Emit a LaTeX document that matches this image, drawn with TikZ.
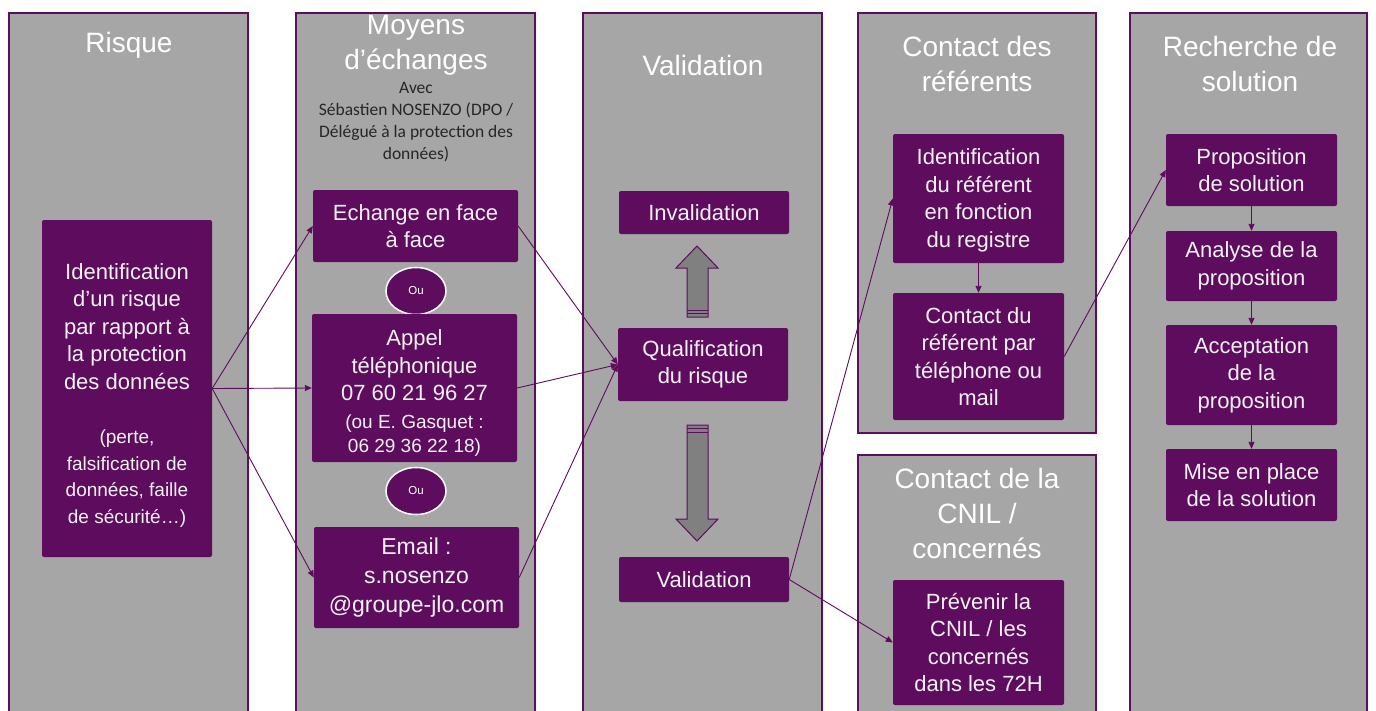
\documentclass[tikz,border=0pt]{standalone}
\usepackage{fontspec}
\setmainfont{Liberation Sans}
\newfontfamily\calib{Carlito}
\usetikzlibrary{arrows.meta,shapes.geometric}
\definecolor{colgray}{RGB}{166,166,166}
\definecolor{plum}{RGB}{94,12,94}
\definecolor{arrgray}{RGB}{128,128,128}
\definecolor{boxtext}{RGB}{242,242,242}
\definecolor{smalltext}{RGB}{38,38,38}
\begin{document}
\begin{tikzpicture}[x=1pt,y=-1pt,
  col/.style={draw=plum,line width=1.2pt,fill=colgray},
  box/.style={fill=plum,rounded corners=2pt,text=boxtext,align=center,inner sep=0pt,font=\fontsize{22}{27.5}\selectfont},
  hdr/.style={text=white,align=center,inner sep=0pt,anchor=north,font=\fontsize{28}{35}\selectfont},
  conn/.style={draw=plum,line width=0.9pt,-{Triangle[length=7pt,width=6pt]}},
  oubox/.style={ellipse,fill=plum,draw=white,line width=1.5pt,minimum width=60pt,minimum height=47pt,inner sep=0pt,text=white,font=\fontsize{11.5}{13}\selectfont},
  blockarr/.style={draw=plum,line width=1pt,fill=arrgray}]
\useasboundingbox (0,0) rectangle (1376,710);
\fill[white] (0,0) rectangle (1376,710);
% columns
\draw[col] (9,13) rectangle (248,714);
\draw[col] (296,13) rectangle (535,714);
\draw[col] (583,13) rectangle (822,714);
\draw[col] (858,13) rectangle (1096,433);
\draw[col] (858,455) rectangle (1096,714);
\draw[col] (1130,13) rectangle (1367,714);
% headers
\node[hdr] (h1) at (129,32) {Risque};
\node[hdr] (h2) at (416,15) {Moyens\\d’échanges};
\node[text=smalltext,align=center,inner sep=0pt,anchor=north,font=\calib\fontsize{17.5}{22}\selectfont] (h2s) at (416,82) {Avec\\Sébastien NOSENZO (DPO /\\Délégué à la protection des\\données)};
\node[hdr] (h3) at (703,55) {Validation};
\node[hdr] (h4) at (977,36) {Contact des\\référents};
\node[hdr] (h5) at (977,468) {Contact de la\\CNIL /\\concernés};
\node[hdr] (h6) at (1250,36) {Recherche de\\solution};
% boxes
\node[box,minimum width=170pt,minimum height=337pt] (risk) at (127,388.5) {\rule{0pt}{29pt}Identification\\d’un risque\\par rapport à\\la protection\\des données\\[27pt]{\fontsize{19}{26}\selectfont (perte,}\\[-1pt]{\fontsize{19}{26}\selectfont falsification de}\\[-1pt]{\fontsize{19}{26}\selectfont données, faille}\\[-1pt]{\fontsize{19}{26}\selectfont de sécurité…)}};
\node[box,minimum width=205pt,minimum height=72pt] (echange) at (415.5,226) {Echange en face\\à face};
\node[oubox] (ou1) at (416,291) {Ou};
\node[box,minimum width=205pt,minimum height=148pt] (appel) at (414.5,388) {\rule{0pt}{26pt}Appel\\téléphonique\\07 60 21 96 27\\{\fontsize{19}{24}\selectfont (ou E. Gasquet :}\\[-3pt]{\fontsize{19}{24}\selectfont 06 29 36 22 18)}};
\node[oubox] (ou2) at (416,491) {Ou};
\node[box,minimum width=205pt,minimum height=101pt,font=\fontsize{23}{29}\selectfont] (email) at (416.5,577.5) {Email :\\s.nosenzo\\@groupe-jlo.com};
\node[box,minimum width=170pt,minimum height=43pt] (invalid) at (704,212.5) {Invalidation};
\node[box,minimum width=170pt,minimum height=73pt] (qualif) at (703,364.5) {Qualification\\du risque};
\node[box,minimum width=170pt,minimum height=45pt] (valid) at (704,579.5) {Validation};
\node[box,minimum width=171pt,minimum height=129pt] (ident) at (978.5,198.5) {\rule{0pt}{20pt}Identification\\du référent\\en fonction\\du registre};
\node[box,minimum width=171pt,minimum height=127pt] (contact) at (978.5,356.5) {Contact du\\référent par\\téléphone ou\\mail};
\node[box,minimum width=171pt,minimum height=125pt] (prevenir) at (978.5,642.5) {Prévenir la\\CNIL / les\\concernés\\dans les 72H};
\node[box,minimum width=171pt,minimum height=72pt] (propo) at (1251.5,170) {Proposition\\de solution};
\node[box,minimum width=171pt,minimum height=70pt] (analyse) at (1251.5,266) {Analyse de la\\proposition};
\node[box,minimum width=171pt,minimum height=100pt] (accept) at (1251.5,375) {Acceptation\\de la\\proposition};
\node[box,minimum width=171pt,minimum height=72pt] (mise) at (1251.5,485) {Mise en place\\de la solution};
% block arrows
\draw[blockarr] (687,317) -- (687,268) -- (676,268) -- (697,246) -- (718,268) -- (708,268) -- (708,317) -- cycle;
\draw[plum,line width=0.8pt] (687,310) -- (708,310) (687,313.5) -- (708,313.5);
\draw[blockarr] (687,425) -- (687,519) -- (676,519) -- (697,541) -- (718,519) -- (708,519) -- (708,425) -- cycle;
\draw[plum,line width=0.8pt] (687,428) -- (708,428) (687,432) -- (708,432);
% connectors
\draw[conn] (risk.east) -- (echange.west);
\draw[conn] (risk.east) -- (appel.west);
\draw[conn] (risk.east) -- (email.west);
\draw[conn] (echange.east) -- (qualif.west);
\draw[conn] (appel.east) -- (qualif.west);
\draw[conn] (email.east) -- (qualif.west);
\draw[conn] (valid.east) -- (ident.west);
\draw[conn] (valid.east) -- (prevenir.west);
\draw[conn] (ident.south) -- (contact.north);
\draw[conn] (contact.east) -- (propo.west);
\draw[conn] (propo.south) -- (analyse.north);
\draw[conn] (analyse.south) -- (accept.north);
\draw[conn] (accept.south) -- (mise.north);
\end{tikzpicture}
\end{document}
